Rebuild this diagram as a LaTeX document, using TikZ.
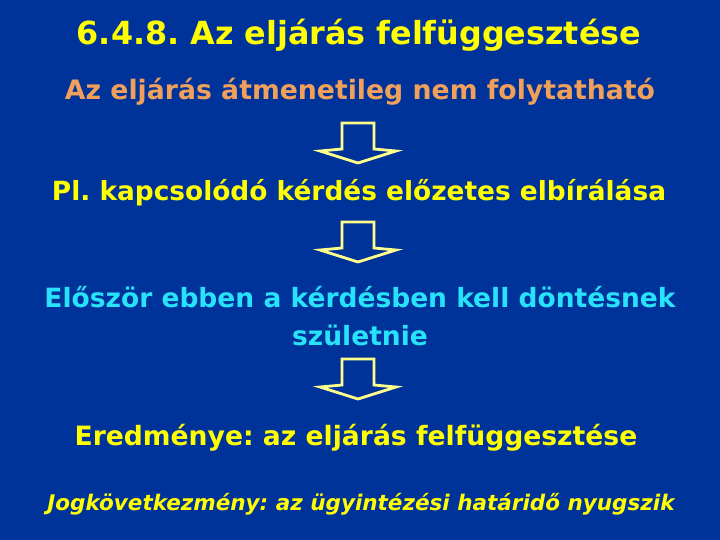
\documentclass[tikz,border=0pt]{standalone}
\usepackage{fontspec}
\setmainfont{DejaVu Sans}
\frenchspacing
\definecolor{bg}{RGB}{0,51,153}
\definecolor{ttl}{RGB}{255,255,0}
\definecolor{org}{RGB}{240,160,90}
\definecolor{cyn}{RGB}{40,225,250}
\definecolor{arr}{RGB}{255,255,140}
\tikzset{
  txt/.style={anchor=base, inner sep=0pt, font=\bfseries\fontsize{#1}{#1}\selectfont},
  blockarrow/.style={draw=arr, fill=bg, line width=2.8pt, line join=miter}
}
\begin{document}
\begin{tikzpicture}[x=1pt,y=-1pt]
\fill[bg] (0,0) rectangle (720,540);
\useasboundingbox (0,0) rectangle (720,540);
\node[txt=31.8, text=ttl] (title) at (359,45) {6.4.8. Az eljárás felfüggesztése};
\node[txt=26.7, text=org] (l1) at (360,100) {Az eljárás átmenetileg nem folytatható};
\node[txt=26.4, text=ttl] (l2) at (359,201) {Pl. kapcsolódó kérdés előzetes elbírálása};
\node[txt=26.5, text=cyn] (l3a) at (360,307) {Először ebben a kérdésben kell döntésnek};
\node[txt=26.5, text=cyn] (l3b) at (360,345) {születnie};
\node[txt=26.6, text=ttl] (l4) at (356,445) {Eredménye: az eljárás felfüggesztése};
\node[txt=21.5, text=ttl, font=\bfseries\itshape\fontsize{21.5}{21.5}\selectfont] (l5) at (361,510) {Jogkövetkezmény: az ügyintézési határidő nyugszik};
\foreach \t in {123,222,359}{
  \draw[blockarrow] (342,\t) -- (374,\t) -- (374,\t+26) -- (396,\t+28) -- (358,\t+40) -- (320,\t+28) -- (342,\t+26) -- cycle;
}
\end{tikzpicture}
\end{document}
